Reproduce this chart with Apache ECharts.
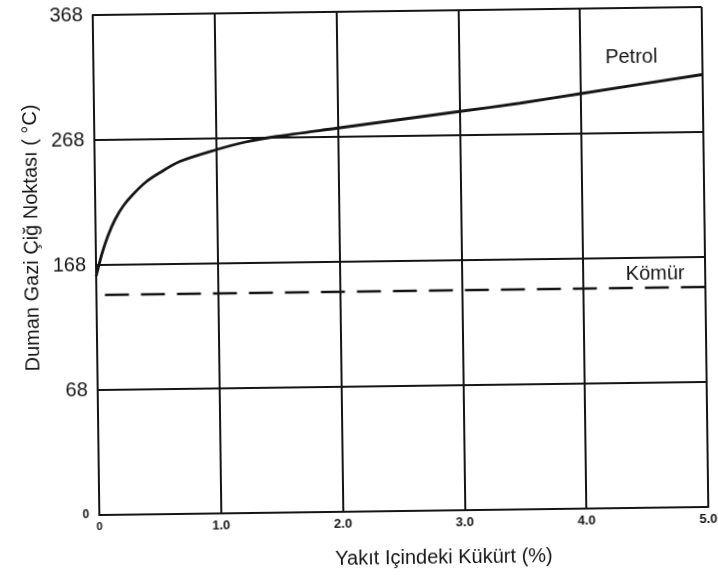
<!DOCTYPE html>
<html>
<head>
<meta charset="utf-8">
<script src="https://cdn.jsdelivr.net/npm/echarts@6/dist/echarts.min.js"></script>
<style>
  html, body { margin: 0; padding: 0; background: #ffffff; }
  /* the printed figure sits very slightly tilted on the page */
  #chart { width: 718px; height: 575px; transform: rotate(-0.76deg); transform-origin: 401px 261px; }
</style>
</head>
<body>
<div id="chart"></div>
<script>
// Sulphur content of the fuel (%), x positions of the oil curve
const petrolSulfur = [0, 0.05, 0.1, 0.16, 0.23, 0.31, 0.42, 0.53, 0.70, 1.0, 1.25, 1.5, 2.0, 2.5, 3.0, 3.5, 4.0, 5.0];
// Flue gas dew point for oil (°C)
const petrolDewPoint = [159, 177, 191, 204, 215, 224, 234, 241, 250, 259, 265, 269, 275, 281, 287, 293, 300, 314];
// Coal: roughly constant dew point over the range
const coalSulfur = [0.07, 5.0];
const coalDewPoint = [144, 144];

const xTickLabels = ['0', '1.0', '2.0', '3.0', '4.0', '5.0'];
// gridline values on the dew point axis and the labels printed beside them
const yTickValues = [-32, 68, 168, 268, 368];
const yTickLabels = ['0', '68', '168', '268', '368'];

const ink = '#151515';
const font = '"Liberation Sans", Arial, sans-serif';

const chart = echarts.init(document.getElementById('chart'), null, { renderer: 'canvas' });

chart.setOption({
  animation: false,
  backgroundColor: '#ffffff',
  grid: { left: 96, right: 13, top: 11, bottom: 64 },
  xAxis: {
    type: 'value',
    min: 0,
    max: 5,
    interval: 1,
    axisLine: { show: true, onZero: false, lineStyle: { color: ink, width: 2 } },
    axisTick: { show: false },
    splitLine: { show: true, lineStyle: { color: ink, width: 2 } },
    axisLabel: {
      margin: 6,
      color: ink,
      fontFamily: font,
      fontSize: 13,
      fontWeight: 'bold',
      formatter: (v, i) => i === 0 ? '{s|' + xTickLabels[i] + '}' : xTickLabels[i],
      rich: { s: { fontSize: 11, fontWeight: 'bold', fontFamily: font, color: ink } }
    }
  },
  yAxis: {
    type: 'value',
    min: yTickValues[0],
    max: yTickValues[yTickValues.length - 1],
    axisLine: { show: true, onZero: false, lineStyle: { color: ink, width: 2 } },
    axisTick: { show: false, customValues: yTickValues },
    splitLine: { show: true, lineStyle: { color: ink, width: 2 } },
    axisLabel: {
      customValues: yTickValues,
      margin: 10,
      color: ink,
      fontFamily: font,
      fontSize: 20,
      formatter: (v) => {
        const k = yTickValues.indexOf(v);
        const t = k >= 0 ? yTickLabels[k] : '';
        return k === 0 ? '{s|' + t + '}' : t;
      },
      rich: { s: { fontSize: 12, fontWeight: 'bold', fontFamily: font, color: ink } }
    }
  },
  series: [
    {
      name: 'Petrol',
      type: 'line',
      data: petrolSulfur.map((x, i) => [x, petrolDewPoint[i]]),
      smooth: 0.3,
      showSymbol: false,
      lineStyle: { color: ink, width: 2.8 },
      z: 5
    },
    {
      name: 'Kömür',
      type: 'line',
      data: coalSulfur.map((x, i) => [x, coalDewPoint[i]]),
      showSymbol: false,
      lineStyle: { color: ink, width: 2.5, type: [24, 12] },
      z: 5
    }
  ],
  graphic: [
    {
      type: 'text',
      x: 634, y: 60,
      style: { text: 'Petrol', fontFamily: font, fontSize: 20, fill: ink, align: 'center', verticalAlign: 'middle' }
    },
    {
      type: 'text',
      x: 655, y: 277,
      style: { text: 'Kömür', fontFamily: font, fontSize: 20, fill: ink, align: 'center', verticalAlign: 'middle' }
    },
    {
      type: 'text',
      x: 32, y: 233,
      rotation: Math.PI / 2,
      style: { text: 'Duman Gazi Çiğ Noktası ( °C)', fontFamily: font, fontSize: 20, fill: ink, align: 'center', verticalAlign: 'middle' }
    },
    {
      type: 'text',
      x: 440, y: 558,
      style: { text: 'Yakıt Içindeki Kükürt (%)', fontFamily: font, fontSize: 20, fill: ink, align: 'center', verticalAlign: 'middle' }
    }
  ]
});
</script>
</body>
</html>
